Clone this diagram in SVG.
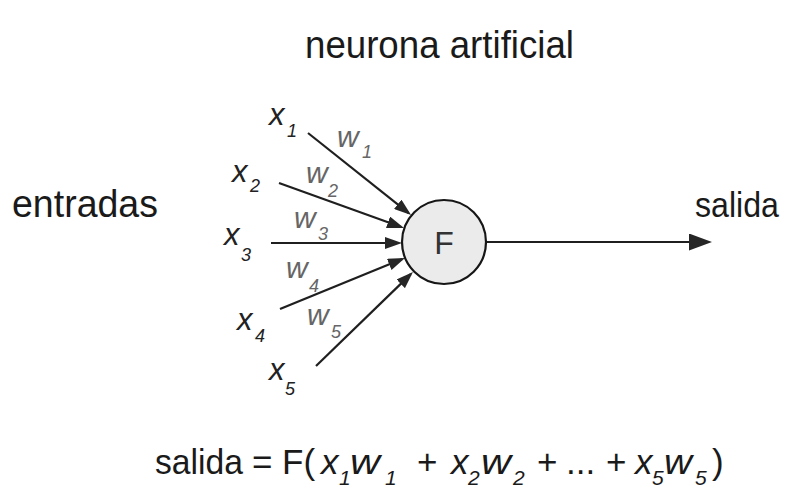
<svg xmlns="http://www.w3.org/2000/svg" width="792" height="497" viewBox="0 0 792 497">
  <style>
    text { font-family: "Liberation Sans", Arial, sans-serif; }
    .lbl { font-size: 38px; fill: #1a1a1a; }
    .xv { font-size: 31px; font-style: italic; fill: #222222; }
    .wv { font-size: 30px; font-style: italic; fill: #666666; }
    .xs { font-size: 18px; font-style: italic; fill: #222222; }
    .ws { font-size: 18px; font-style: italic; fill: #666666; }
    .fm { font-size: 35px; fill: #1a1a1a; }
    .fi { font-size: 35px; font-style: italic; fill: #1a1a1a; }
    .fs { font-size: 21px; font-style: italic; fill: #1a1a1a; }
    .edge { stroke: #1f1f1f; stroke-width: 2.2; fill: none; }
  </style>
  <defs>
    <marker id="ah" markerUnits="userSpaceOnUse" markerWidth="18" markerHeight="12" refX="14" refY="6" orient="auto">
      <path d="M0,0 L17,6 L0,12 z" fill="#262626"/>
    </marker>
    <marker id="ahBig" markerUnits="userSpaceOnUse" markerWidth="24" markerHeight="17" refX="20" refY="8.5" orient="auto">
      <path d="M0,0 L23,8.5 L0,17 z" fill="#262626"/>
    </marker>
  </defs>
  <rect width="792" height="497" fill="#ffffff"/>

  <g id="title"><text class="lbl" x="305" y="58" textLength="269" lengthAdjust="spacingAndGlyphs">neurona artificial</text></g>
  <g id="entradas"><text class="lbl" x="12" y="217" textLength="146" lengthAdjust="spacingAndGlyphs">entradas</text></g>
  <g id="salida-label"><text x="695" y="217" font-size="35" fill="#1a1a1a" textLength="84" lengthAdjust="spacingAndGlyphs">salida</text></g>

  <g id="connectors">
    <line class="edge" x1="308" y1="133" x2="408.7" y2="213.1" marker-end="url(#ah)"/>
    <line class="edge" x1="279" y1="183" x2="401.2" y2="227" marker-end="url(#ah)"/>
    <line class="edge" x1="271" y1="243" x2="399" y2="243" marker-end="url(#ah)"/>
    <line class="edge" x1="280" y1="309" x2="402.2" y2="259.1" marker-end="url(#ah)"/>
    <line class="edge" x1="316" y1="366" x2="410.8" y2="274.1" marker-end="url(#ah)"/>
    <line class="edge" x1="486" y1="242" x2="709" y2="242" marker-end="url(#ahBig)"/>
  </g>

  <g id="neuron">
    <circle cx="444" cy="242" r="42" fill="#ebebeb" stroke="#161616" stroke-width="2.2"/>
    <text x="444" y="254" font-size="32" fill="#333333" text-anchor="middle">F</text>
  </g>

  <g id="x1"><text class="xv" x="269" y="125">x</text><text class="xs" x="287" y="137">1</text></g>
  <g id="x2"><text class="xv" x="232" y="182">x</text><text class="xs" x="250" y="192">2</text></g>
  <g id="x3"><text class="xv" x="224" y="245">x</text><text class="xs" x="241" y="261">3</text></g>
  <g id="x4"><text class="xv" x="237" y="330">x</text><text class="xs" x="255" y="342">4</text></g>
  <g id="x5"><text class="xv" x="269" y="380">x</text><text class="xs" x="285" y="395">5</text></g>

  <g id="w1"><text class="wv" x="337" y="147">w</text><text class="ws" x="362" y="158">1</text></g>
  <g id="w2"><text class="wv" x="306" y="183">w</text><text class="ws" x="328" y="197">2</text></g>
  <g id="w3"><text class="wv" x="294" y="228">w</text><text class="ws" x="318" y="240">3</text></g>
  <g id="w4"><text class="wv" x="286" y="278">w</text><text class="ws" x="309" y="292">4</text></g>
  <g id="w5"><text class="wv" x="307" y="325">w</text><text class="ws" x="331" y="338">5</text></g>

  <g id="formula">
    <text class="fm" x="155" y="474" textLength="88" lengthAdjust="spacingAndGlyphs">salida</text>
    <text class="fm" x="252" y="474">=</text>
    <text class="fm" x="282" y="474">F(</text>
    <text class="fi" x="321" y="474">x</text>
    <text class="fs" x="339" y="485">1</text>
    <text class="fi" x="350" y="474" textLength="30" lengthAdjust="spacingAndGlyphs">w</text>
    <text class="fs" x="385" y="485">1</text>
    <text class="fm" x="417" y="474">+</text>
    <text class="fi" x="451" y="474">x</text>
    <text class="fs" x="468" y="485">2</text>
    <text class="fi" x="481" y="474" textLength="30" lengthAdjust="spacingAndGlyphs">w</text>
    <text class="fs" x="513" y="485">2</text>
    <text class="fm" x="537" y="474">+</text>
    <text class="fm" x="566" y="474">...</text>
    <text class="fm" x="606" y="474">+</text>
    <text class="fi" x="635" y="474">x</text>
    <text class="fs" x="652" y="485">5</text>
    <text class="fi" x="664" y="474" textLength="28" lengthAdjust="spacingAndGlyphs">w</text>
    <text class="fs" x="695" y="485">5</text>
    <text class="fm" x="712" y="474">)</text>
  </g>
</svg>
